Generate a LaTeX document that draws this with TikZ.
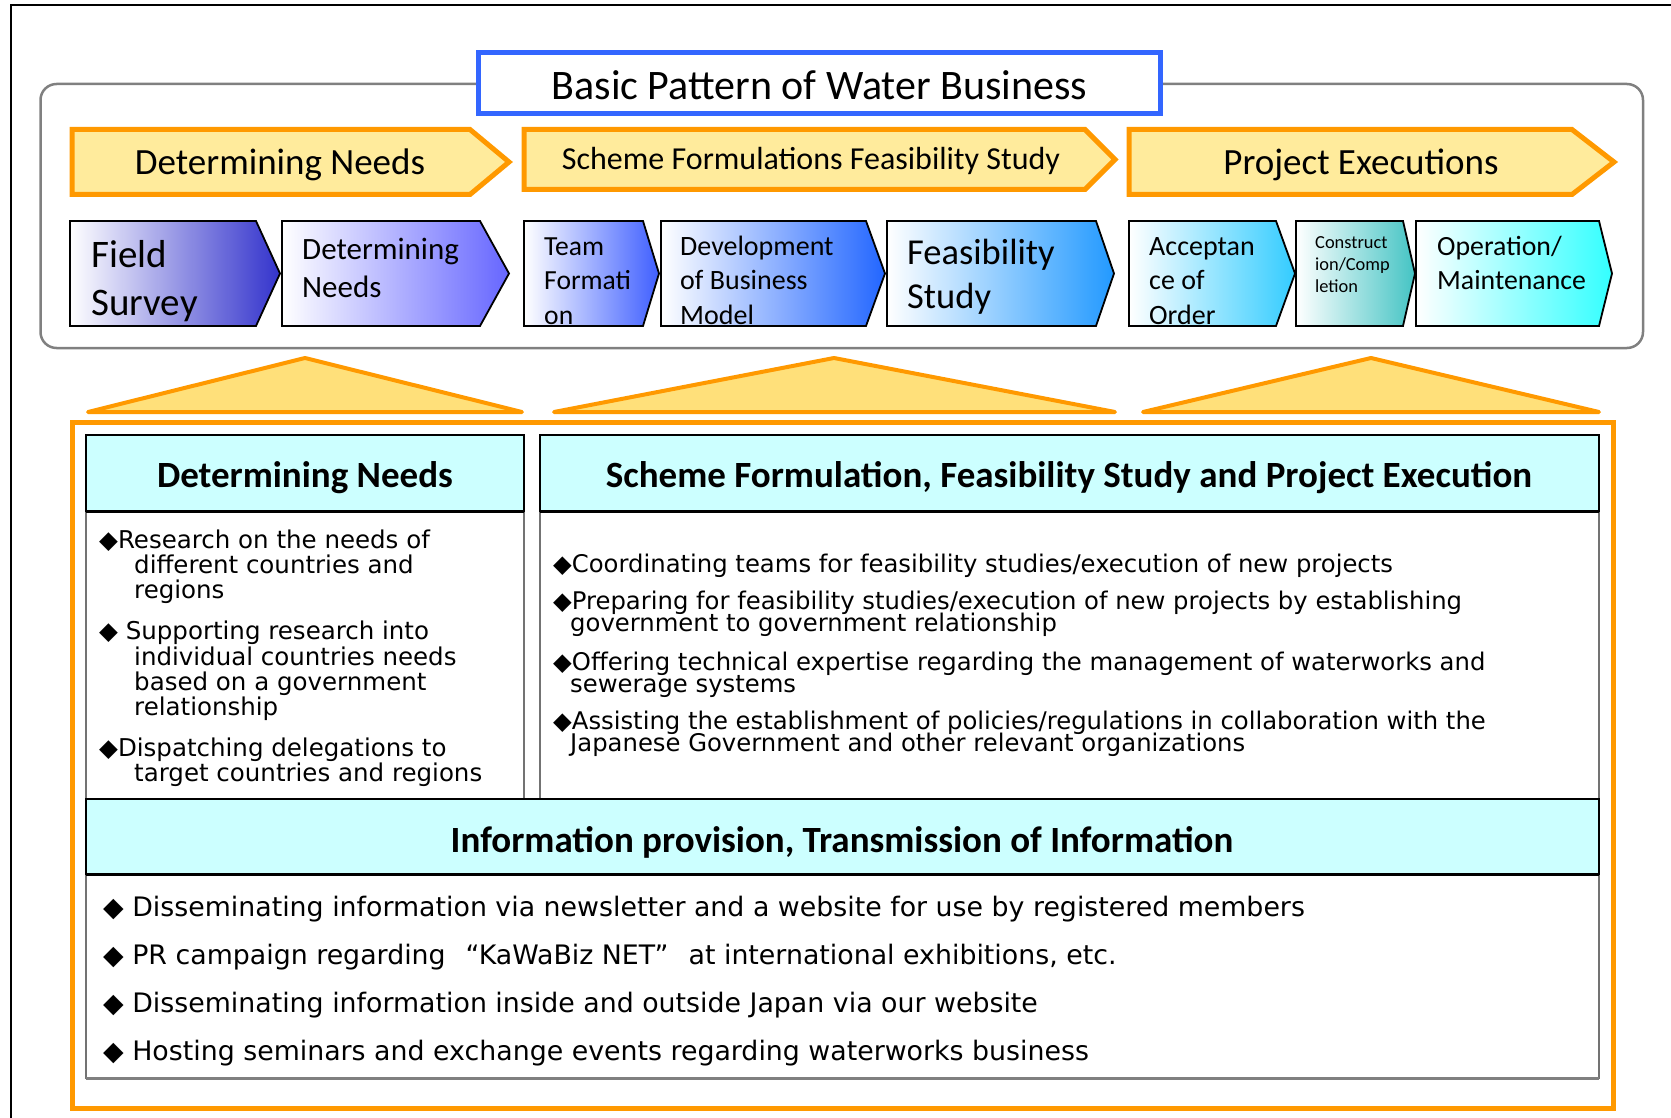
\documentclass[tikz,border=0pt]{standalone}
\usepackage{fontspec}
\setmainfont{Carlito}
\newfontfamily\bodyfont{DejaVu Sans}
\definecolor{orng}{HTML}{FF9900}
\definecolor{bannerfill}{HTML}{FFEB9C}
\definecolor{trifill}{HTML}{FFE07A}
\definecolor{hdrfill}{HTML}{CCFFFF}
\definecolor{titleblue}{HTML}{3366FF}
\definecolor{cA}{HTML}{3333CC}
\definecolor{cB}{HTML}{6666FF}
\definecolor{cC}{HTML}{3F5FFF}
\definecolor{cD}{HTML}{2266FF}
\definecolor{cE}{HTML}{2299FF}
\definecolor{cF}{HTML}{33CCFF}
\definecolor{cG}{HTML}{44C4C4}
\definecolor{cH}{HTML}{33FFFF}
\tikzset{
  banner/.style={draw=orng, line width=5pt, fill=bannerfill, line join=miter},
  tri/.style={draw=orng, line width=4pt, fill=trifill, line join=round},
  chev/.style={draw=black, line width=1.8pt, line join=miter},
  hdr/.style={draw=black, line width=1.5pt, fill=hdrfill},
  cbox/.style={draw=black!55, line width=1.3pt},
  chevtxt/.style={anchor=base west, inner sep=0pt},
  bodyL/.style={anchor=base west, inner sep=0pt, font=\bodyfont\fontsize{24.5}{28}\selectfont},
  bodyR/.style={anchor=base west, inner sep=0pt, font=\bodyfont\fontsize{24.3}{28}\selectfont},
  bodyB/.style={anchor=base west, inner sep=0pt, font=\bodyfont\fontsize{26.8}{30}\selectfont},
  hdrtxt/.style={inner sep=0pt, font=\bfseries\fontsize{37}{44}\selectfont},
}
\newcommand\drawchev[4]{\path[chev, left color=white, right color=#4] (#1,221)--(#2,221)--(#3,273.5)--(#2,326)--(#1,326)--cycle;}
\newcommand\clipchev[3]{\clip (#1,221)--(#2,221)--(#3,273.5)--(#2,326)--(#1,326)--cycle;}
\newcommand\bul{◆}
\begin{document}
\begin{tikzpicture}[x=1pt,y=-1pt]
\useasboundingbox (0,0) rectangle (1671,1118);
% outer frame
\draw[line width=2pt] (10.5,1118) -- (10.5,5.5) -- (1671,5.5);
% grey rounded box
\draw[draw=gray, line width=2.5pt, rounded corners=16pt] (40.5,84) rectangle (1643,348);
% title
\node[draw=titleblue, line width=5pt, fill=white, minimum width=682pt, minimum height=61pt, inner sep=0pt,
      font=\fontsize{42}{50}\selectfont] (title) at (819.5,83.5) {};
\node[inner sep=0pt, font=\fontsize{42}{50}\selectfont] (titletxt) at (819.5,85) {Basic Pattern of Water Business};
% banners
\path[banner] (72,129.5) -- (470,129.5) -- (509,162) -- (470,194.5) -- (72,194.5) -- cycle;
\node[inner sep=0pt, font=\fontsize{37}{44}\selectfont] (b1) at (280,165) {Determining Needs};
\path[banner] (524,129.5) -- (1085,129.5) -- (1115,159.5) -- (1085,189.5) -- (524,189.5) -- cycle;
\node[inner sep=0pt, font=\fontsize{32}{38}\selectfont] (b2) at (811,161) {Scheme Formulations Feasibility Study};
\path[banner] (1129,129.5) -- (1572,129.5) -- (1614,162) -- (1572,194.5) -- (1129,194.5) -- cycle;
\node[inner sep=0pt, font=\fontsize{37}{44}\selectfont] (b3) at (1361,165) {Project Executions};
% chevrons
\drawchev{70}{256}{280}{cA}
\drawchev{282}{480}{509}{cB}
\drawchev{524}{643}{659}{cC}
\drawchev{661}{866}{885}{cD}
\drawchev{887}{1096}{1114}{cE}
\drawchev{1129}{1276}{1295}{cF}
\drawchev{1296}{1403}{1415}{cG}
\drawchev{1416}{1599}{1612}{cH}
\begin{scope}
\clipchev{70}{256}{280}
\node[chevtxt, font=\fontsize{39}{46}\selectfont] (t1a) at (91,268) {Field};
\node[chevtxt, font=\fontsize{39}{46}\selectfont] (t1b) at (91,315) {Survey};
\end{scope}
\begin{scope}
\clipchev{282}{480}{509}
\node[chevtxt, font=\fontsize{31}{38}\selectfont] (t2a) at (302,260) {Determining};
\node[chevtxt, font=\fontsize{31}{38}\selectfont] (t2b) at (302,297) {Needs};
\end{scope}
\begin{scope}
\clipchev{524}{643}{659}
\node[chevtxt, font=\fontsize{27.6}{34}\selectfont] (t3a) at (544,255) {Team};
\node[chevtxt, font=\fontsize{27.6}{34}\selectfont] (t3b) at (544,290) {Formati};
\node[chevtxt, font=\fontsize{27.6}{34}\selectfont] (t3c) at (544,324) {on};
\end{scope}
\begin{scope}
\clipchev{661}{866}{885}
\node[chevtxt, font=\fontsize{28}{34}\selectfont] (t4a) at (680,255) {Development};
\node[chevtxt, font=\fontsize{28}{34}\selectfont] (t4b) at (680,290) {of Business};
\node[chevtxt, font=\fontsize{28}{34}\selectfont] (t4c) at (680,324) {Model};
\end{scope}
\begin{scope}
\clipchev{887}{1096}{1114}
\node[chevtxt, font=\fontsize{36.5}{44}\selectfont] (t5a) at (907,265) {Feasibility};
\node[chevtxt, font=\fontsize{36.5}{44}\selectfont] (t5b) at (907,308) {Study};
\end{scope}
\begin{scope}
\clipchev{1129}{1276}{1295}
\node[chevtxt, font=\fontsize{28}{34}\selectfont] (t6a) at (1149,255) {Acceptan};
\node[chevtxt, font=\fontsize{28}{34}\selectfont] (t6b) at (1149,290) {ce of};
\node[chevtxt, font=\fontsize{28}{34}\selectfont] (t6c) at (1149,324) {Order};
\end{scope}
\begin{scope}
\clipchev{1296}{1403}{1415}
\node[chevtxt, font=\fontsize{18.4}{22}\selectfont] (t7a) at (1315,248) {Construct};
\node[chevtxt, font=\fontsize{18.4}{22}\selectfont] (t7b) at (1315,270) {ion/Comp};
\node[chevtxt, font=\fontsize{18.4}{22}\selectfont] (t7c) at (1315,292) {letion};
\end{scope}
\begin{scope}
\clipchev{1416}{1599}{1612}
\node[chevtxt, font=\fontsize{27.8}{34}\selectfont] (t8a) at (1437,255) {Operation/};
\node[chevtxt, font=\fontsize{27.8}{34}\selectfont] (t8b) at (1437,290) {Maintenance};
\end{scope}
% triangles
\path[tri] (88,412) -- (305,358) -- (522,412) -- cycle;
\path[tri] (554,412) -- (834,358) -- (1115,412) -- cycle;
\path[tri] (1143,412) -- (1371,358) -- (1599,412) -- cycle;
% orange frame
\draw[orng, line width=5pt] (72,422) rectangle (1613,1108);
% boxes
\draw[cbox] (86,511) rectangle (524,799);
\draw[cbox] (540,511) rectangle (1599,799);
\draw[cbox] (86,874) rectangle (1599,1078);
\draw[black!50, line width=3pt] (86,1078) -- (1599,1078);
\draw[hdr] (86,435) rectangle (524,511);
\draw[hdr] (540,435) rectangle (1599,511);
\draw[hdr] (86,799) rectangle (1599,874);
\draw[line width=3pt] (86,511) -- (524,511);
\draw[line width=3pt] (540,511) -- (1599,511);
\draw[line width=3pt] (86,874) -- (1599,874);
\node[hdrtxt] (h1) at (305,478) {Determining Needs};
\node[hdrtxt] (h2) at (1069,478) {Scheme Formulation, Feasibility Study and Project Execution};
\node[hdrtxt] (h3) at (842,842) {Information provision, Transmission of Information};
% left column
\node[bodyL] (l1) at (99,548) {\bul Research on the needs of};
\node[bodyL] (l2) at (134,573) {different countries and};
\node[bodyL] (l3) at (134,598) {regions};
\node[bodyL] (l4) at (99,639) {\bul\ Supporting research into};
\node[bodyL] (l5) at (134,665) {individual countries needs};
\node[bodyL] (l6) at (134,690) {based on a government};
\node[bodyL] (l7) at (134,715) {relationship};
\node[bodyL] (l8) at (99,756) {\bul Dispatching delegations to};
\node[bodyL] (l9) at (134,781) {target countries and regions};
% right column
\node[bodyR] (r1) at (553,572) {\bul Coordinating teams for feasibility studies/execution of new projects};
\node[bodyR] (r2) at (553,609) {\bul Preparing for feasibility studies/execution of new projects by establishing};
\node[bodyR] (r3) at (570,631) {government to government relationship};
\node[bodyR] (r4) at (553,670) {\bul Offering technical expertise regarding the management of waterworks and};
\node[bodyR] (r5) at (570,692) {sewerage systems};
\node[bodyR] (r6) at (553,729) {\bul Assisting the establishment of policies/regulations in collaboration with the};
\node[bodyR] (r7) at (570,751) {Japanese Government and other relevant organizations};
% bottom
\node[bodyB] (m1) at (103,916) {\bul\ Disseminating information via newsletter and a website for use by registered members};
\node[bodyB] (m2) at (103,964) {\bul\ PR campaign regarding\hspace{20pt}“KaWaBiz NET”\hspace{20pt}at international exhibitions, etc.};
\node[bodyB] (m3) at (103,1012) {\bul\ Disseminating information inside and outside Japan via our website};
\node[bodyB] (m4) at (103,1060) {\bul\ Hosting seminars and exchange events regarding waterworks business};
\end{tikzpicture}
\end{document}
